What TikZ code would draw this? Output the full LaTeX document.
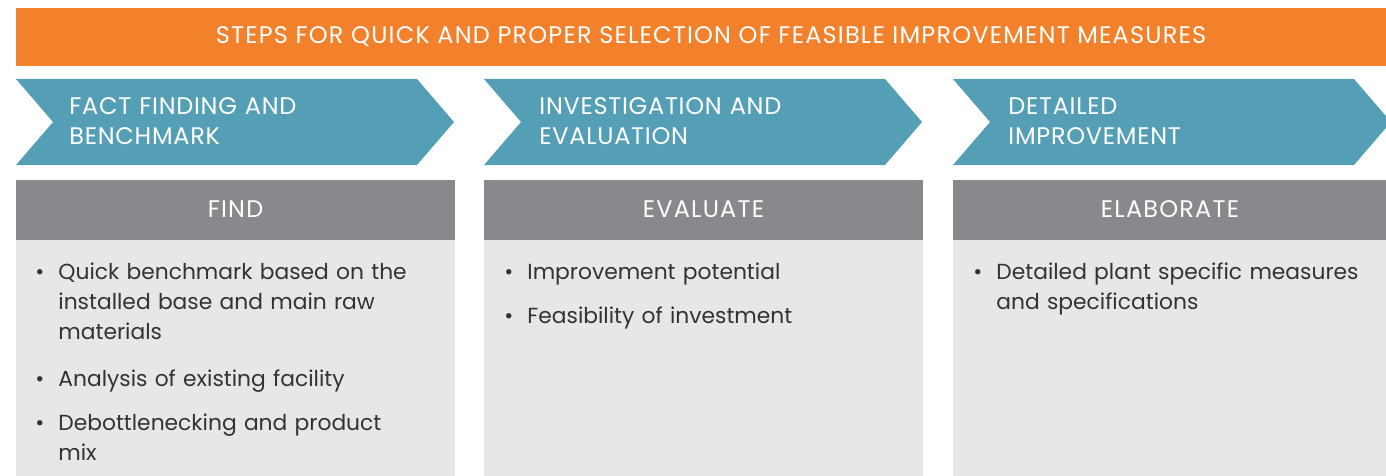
\documentclass[tikz,border=0pt]{standalone}
\usepackage{fontspec}
\setmainfont{Poppins}
\newfontfamily\capsfont[LetterSpace=5]{Poppins}
\newfontfamily\stepfont[LetterSpace=3]{Poppins}
\usetikzlibrary{positioning,calc}

\definecolor{bannerorange}{HTML}{F3812C}
\definecolor{stepteal}{HTML}{559FB6}
\definecolor{headgrey}{HTML}{87898D}
\definecolor{bodygrey}{HTML}{E6E7E9}
\definecolor{bodytext}{HTML}{333333}

\newcommand{\itembul}{\makebox[0pt][r]{\textbullet\hspace{7pt}}}

\begin{document}
\begin{tikzpicture}[x=0.5pt,y=-0.5pt,
  bannertext/.style={text=white, font=\capsfont\fontsize{12}{15}\selectfont, inner sep=0pt},
  steptext/.style={anchor=base west, text width=200pt, align=left, text=white, font=\stepfont\fontsize{12}{15}\selectfont, inner sep=0pt},
  headtext/.style={text=white, font=\capsfont\fontsize{12}{15}\selectfont, inner sep=0pt},
  itemtext/.style={anchor=base west, text width=195pt, align=left, text=bodytext, font=\fontsize{10.9}{15}\selectfont, inner sep=0pt}]
			\useasboundingbox (0,0) rectangle (1386,476);
			
			% banner
			\fill[bannerorange] (16,8) rectangle (1406,66);
			\node[bannertext] (title) at (711,37) {STEPS FOR QUICK AND PROPER SELECTION OF FEASIBLE IMPROVEMENT MEASURES};
			
			% chevrons
			\foreach \x in {16,484,953}
				\fill[stepteal] (\x,79) -- ++(401,0) -- ++(37,43) -- ++(-37,43) -- ++(-401,0) -- ++(37,-43) -- cycle;
			\node[steptext] (fact) at (69,114) {FACT FINDING AND\\BENCHMARK};
			\node[steptext] (invest) at (539,114) {INVESTIGATION AND\\EVALUATION};
			\node[steptext] (detail) at (1008,114) {DETAILED\\IMPROVEMENT};
			
			% columns
			\fill[headgrey] (16,180) rectangle (455,240);
			\fill[headgrey] (484,180) rectangle (923,240);
			\fill[headgrey] (953,180) rectangle (1392,240);
			\fill[bodygrey] (16,240) rectangle (455,476);
			\fill[bodygrey] (484,240) rectangle (923,476);
			\fill[bodygrey] (953,240) rectangle (1392,476);
			\node[headtext] (find) at (235.5,209) {FIND};
			\node[headtext] (evaluate) at (703.5,209) {EVALUATE};
			\node[headtext] (elaborate) at (1170,209) {ELABORATE};
			
			% items
			\node[itemtext] (find1) at (58,279) {\itembul Quick benchmark based on the\\installed base and main raw\\materials};
			\node[itemtext] (find2) at (58,386) {\itembul Analysis of existing facility};
			\node[itemtext] (find3) at (58,430) {\itembul Debottlenecking and product\\mix};
			\node[itemtext] (eval1) at (527,279) {\itembul Improvement potential};
			\node[itemtext] (eval2) at (527,323) {\itembul Feasibility of investment};
			\node[itemtext] (elab1) at (996,279) {\itembul Detailed plant specific measures\\and specifications};
			
			\end{tikzpicture}
\end{document}
